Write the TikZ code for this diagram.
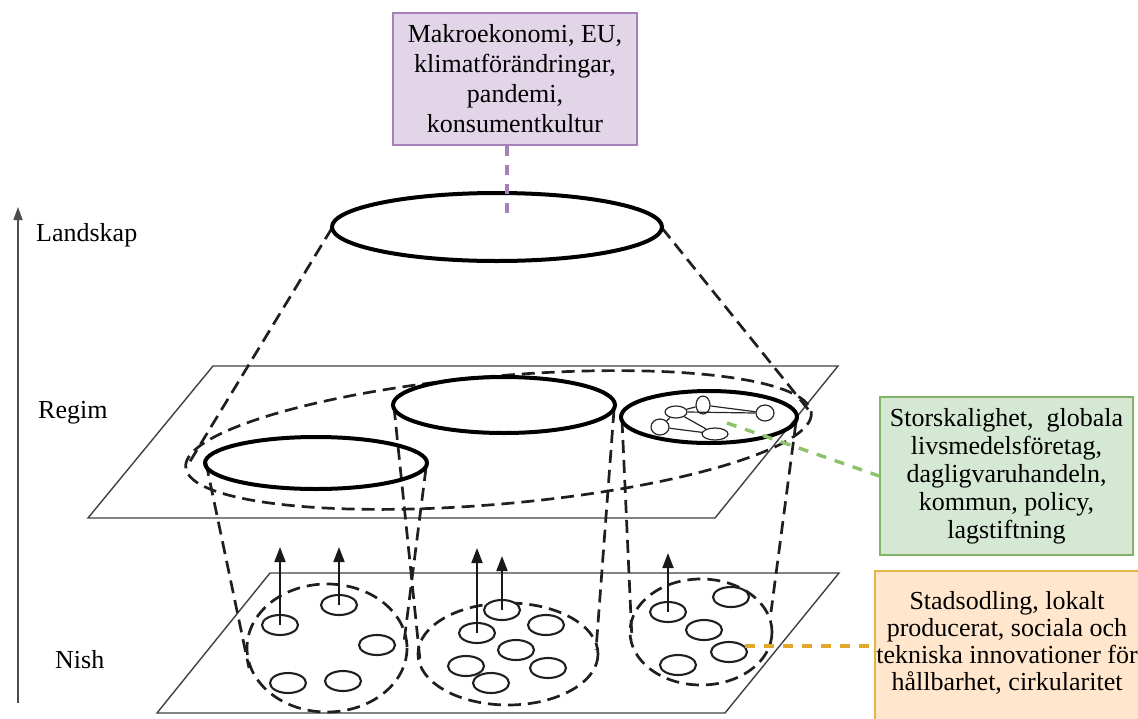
\documentclass[tikz,border=0pt]{standalone}
\usepackage{fontspec}
\setmainfont{Liberation Serif}
\usetikzlibrary{arrows.meta,shapes.geometric}
\definecolor{purpfill}{HTML}{E1D5E7}
\definecolor{purpdraw}{HTML}{A680B8}
\definecolor{greenfill}{HTML}{D5E8D4}
\definecolor{greendraw}{HTML}{82B366}
\definecolor{greendash}{HTML}{8CC26A}
\definecolor{orangefill}{HTML}{FFE6CC}
\definecolor{orangedraw}{HTML}{E3B448}
\definecolor{orangedash}{HTML}{E3A82B}
\begin{document}
\begin{tikzpicture}[x=1pt,y=-1pt,
  plane/.style={draw=black!75, line width=1.4pt, line join=miter},
  cyl/.style={draw=black!88, line width=2.7pt, dash pattern=on 13pt off 7pt},
  rim/.style={draw=black, line width=4pt},
  blob/.style={draw=black!88, line width=2.1pt},
  uparrow/.style={draw=black!90, line width=2pt, -{Triangle[width=11pt,length=15pt]}},
  lvl/.style={font=\fontsize{26}{30}\selectfont, anchor=west, inner sep=0pt},
  netc/.style={ellipse, draw=black!85, line width=1.2pt, fill=white, inner sep=0pt},
  netl/.style={draw=black!85, line width=1.2pt},
  txt/.style={font=\fontsize{26}{28}\selectfont, align=center, inner sep=1pt},
  cdash/.style={line width=3.4pt, dash pattern=on 10pt off 9pt}
]
\useasboundingbox (0,0) rectangle (1138,718);

% level axis
\coordinate (axb) at (18,703);
\coordinate (axt) at (18,207);
\draw[draw=black!70, line width=1.5pt, -{Triangle[width=9pt,length=13pt]}] (axb) -- (axt);
\node[lvl] (lland) at (36,235) {Landskap};
\node[lvl] (lreg) at (38,413) {Regim};
\node[lvl] (lnish) at (55,660) {Nish};

% regime plane
\draw[plane] (88,518) -- (715,518) -- (838,366) -- (213,366) -- cycle;
% niche plane
\draw[plane] (157,713) -- (725,713) -- (839,573) -- (270,573) -- cycle;

% landscape cone
\draw[cyl] (332,228) -- (186,468);
\draw[cyl] (662,228) -- (811,413);

% big dashed regime ellipse
\draw[cyl, rotate around={5:(498.5,440)}] (498.5,440) ellipse [x radius=314, y radius=64];

% cylinders
\draw[cyl] (206,463) -- (249,668);
\draw[cyl] (426,468) -- (404,642);
\draw[cyl] (394,407) -- (420,660);
\draw[cyl] (614,410) -- (596,650);
\draw[cyl] (622,420) -- (632,640);
\draw[cyl] (796,422) -- (771,612);

% niche dashed regions
\draw[cyl] (327,648) ellipse [x radius=80, y radius=64];
\draw[cyl] (508,654) ellipse [x radius=90, y radius=51];
\draw[cyl] (701,632) ellipse [x radius=71, y radius=53];

% landscape ellipse
\draw[rim, fill=white] (497,227) ellipse [x radius=165, y radius=34];
% regime ellipses
\draw[rim] (316,463) ellipse [x radius=111, y radius=26];
\draw[rim] (504,405) ellipse [x radius=111, y radius=28];
\draw[rim] (709,417) ellipse [x radius=88, y radius=26];

% network inside right regime ellipse
\node[netc, minimum width=14pt, minimum height=18pt] (n1) at (703,405) {};
\node[netc, minimum width=22pt, minimum height=12pt] (n2) at (676,412) {};
\node[netc, minimum width=18pt, minimum height=16pt] (n3) at (765,413) {};
\node[netc, minimum width=18pt, minimum height=16pt] (n4) at (660,427) {};
\node[netc, minimum width=26pt, minimum height=12pt] (n5) at (715,434) {};
\draw[netl] (n2) -- (n1);
\draw[netl] (n1) -- (n3);
\draw[netl] (n2.east) -- (n3.west);
\draw[netl] (n4) -- (n2);
\draw[netl] (n4) -- (n5);
\draw[netl] (n2) -- (n5);

% niche blobs
\foreach \p in {(280,625),(339,605),(377,645),(288,683),(343,681),
                (477,633),(502,610),(546,625),(516,650),(466,666),(548,668),(491,683),
                (731,597),(668,612),(704,630),(729,652),(678,665)}
  \draw[blob, fill=white] \p ellipse [x radius=18, y radius=10];

% upward arrows
\coordinate (a1) at (280,625); \coordinate (t1) at (280,547);
\coordinate (a2) at (339,605); \coordinate (t2) at (339,547);
\coordinate (a3) at (477,633); \coordinate (t3) at (477,548);
\coordinate (a4) at (502,610); \coordinate (t4) at (502,556);
\coordinate (a5) at (668,612); \coordinate (t5) at (668,553);
\foreach \i in {1,...,5} \draw[uparrow] (a\i) -- (t\i);

% label boxes
\node[txt, font=\fontsize{26}{30}\selectfont, draw=purpdraw, fill=purpfill, line width=1.5pt,
      minimum width=244pt, minimum height=132pt] (landbox) at (515,79)
  {Makroekonomi, EU,\\klimatförändringar,\\pandemi,\\konsumentkultur};
\coordinate (landpt) at (507,220);
\draw[draw=purpdraw, cdash] (landbox.south -| landpt) -- (landpt);

\node[txt, draw=greendraw, fill=greenfill, line width=1.5pt,
      minimum width=253pt, minimum height=158pt] (regbox) at (1006.5,476)
  {Storskalighet,\ \ globala\\livsmedelsföretag,\\dagligvaruhandeln,\\kommun, policy,\\lagstiftning};
\coordinate (regpt) at (727,423);
\draw[draw=greendash, cdash] (regpt) -- (regbox.west);

\draw[draw=orangedraw, fill=orangefill, line width=1.5pt] (875,571) rectangle (1150,730);
\node[txt, font=\fontsize{26}{27}\selectfont] (nishbox) at (1007,643)
  {Stadsodling, lokalt\\producerat, sociala och\\tekniska innovationer för\\hållbarhet, cirkularitet};
\coordinate (nishpt) at (745,646);
\coordinate (nishend) at (875,646);
\draw[draw=orangedash, cdash] (nishpt) -- (nishend);
\end{tikzpicture}
\end{document}
